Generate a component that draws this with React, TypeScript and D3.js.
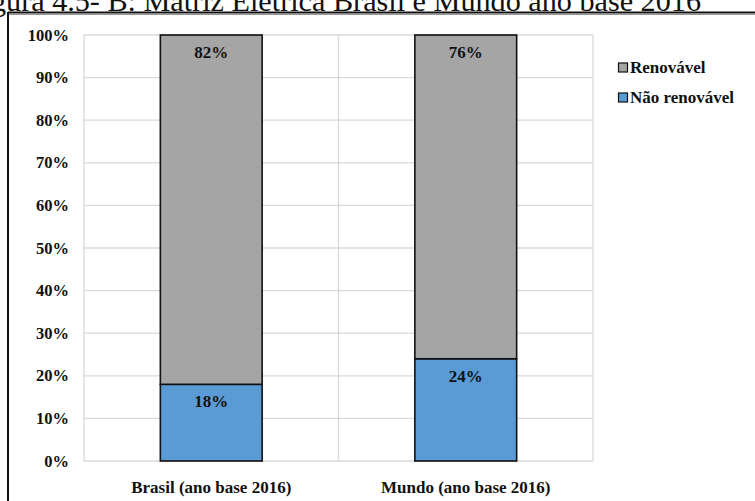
import React from "react";
import * as d3 from "d3";

const categories = ["Brasil (ano base 2016)", "Mundo (ano base 2016)"];
const naoRenovavel = [18, 24];
const renovavel = [82, 76];
const seriesNames = ["Renovável", "Não renovável"];
const seriesColors = ["#a5a5a5", "#5b9bd5"];
const yTicks = [0, 10, 20, 30, 40, 50, 60, 70, 80, 90, 100];
const title = "Figura 4.5- B: Matriz Elétrica Brasil e Mundo ano base 2016";

const W = 755;
const H = 501;
const plot = { left: 84, right: 593, top: 35, bottom: 461 };
const serif = "'Liberation Serif', 'Times New Roman', serif";

export default function App() {
  const x = d3
    .scaleBand<string>()
    .domain(categories)
    .range([plot.left, plot.right])
    .paddingInner(0)
    .paddingOuter(0);
  const y = d3.scaleLinear().domain([0, 100]).range([plot.bottom, plot.top]);
  const barW = x.bandwidth() * 0.4;

  const stacked = categories.map((c, i) => ({
    cat: c,
    segs: [
      { key: "nr", y0: 0, y1: naoRenovavel[i], color: seriesColors[1], label: `${naoRenovavel[i]}%` },
      { key: "r", y0: naoRenovavel[i], y1: naoRenovavel[i] + renovavel[i], color: seriesColors[0], label: `${renovavel[i]}%` },
    ],
  }));

  return (
    <div style={{ position: "absolute", left: 0, top: 0 }}>
      <svg width={W} height={H} style={{ display: "block", background: "#fff" }}>
        <text x={701} y={10.5} textAnchor="end" fontFamily={serif} fontSize={30.2} fill="#111">
          {title}
        </text>
        {/* frame */}
        <line x1={8} x2={W} y1={12.5} y2={12.5} stroke="#111" strokeWidth={2} />
        <line x1={8} x2={W} y1={14.5} y2={14.5} stroke="#999" strokeWidth={1} />
        <line x1={8} x2={8} y1={12} y2={H} stroke="#111" strokeWidth={2} />

        {/* grid */}
        {yTicks.map((t) => (
          <line key={t} x1={plot.left} x2={plot.right} y1={y(t)} y2={y(t)} stroke="#d9d9d9" strokeWidth={1.3} />
        ))}
        {[plot.left, plot.left + x.bandwidth(), plot.right].map((xx, i) => (
          <line key={i} x1={xx} x2={xx} y1={plot.top} y2={plot.bottom} stroke="#d9d9d9" strokeWidth={1.3} />
        ))}

        {/* y tick labels */}
        {yTicks.map((t) => (
          <text key={t} x={69} y={y(t) + 5.5} textAnchor="end" fontFamily={serif} fontWeight="bold" fontSize={16.5} fill="#111">
            {`${t}%`}
          </text>
        ))}

        {/* bars */}
        {stacked.map((s) => {
          const cx = (x(s.cat) as number) + x.bandwidth() / 2;
          return (
            <g key={s.cat}>
              {s.segs.map((g) => (
                <rect
                  key={g.key}
                  x={cx - barW / 2}
                  y={y(g.y1)}
                  width={barW}
                  height={y(g.y0) - y(g.y1)}
                  fill={g.color}
                  stroke="#111"
                  strokeWidth={1.6}
                />
              ))}
              {s.segs.map((g) => (
                <text
                  key={g.key + "l"}
                  x={cx}
                  y={y(g.y1) + 23}
                  textAnchor="middle"
                  fontFamily={serif}
                  fontWeight="bold"
                  fontSize={17}
                  fill="#111"
                >
                  {g.label}
                </text>
              ))}
              <text x={cx} y={493} textAnchor="middle" fontFamily={serif} fontWeight="bold" fontSize={17} fill="#111">
                {s.cat}
              </text>
            </g>
          );
        })}

        {/* legend */}
        {seriesNames.map((n, i) => (
          <g key={n} transform={`translate(618, ${68 + i * 30})`}>
            <rect x={0.5} y={-5} width={9} height={9} fill={seriesColors[i]} stroke="#111" strokeWidth={1.2} />
            <text x={12} y={5} fontFamily={serif} fontWeight="bold" fontSize={17} fill="#111">
              {n}
            </text>
          </g>
        ))}
      </svg>
    </div>
  );
}
